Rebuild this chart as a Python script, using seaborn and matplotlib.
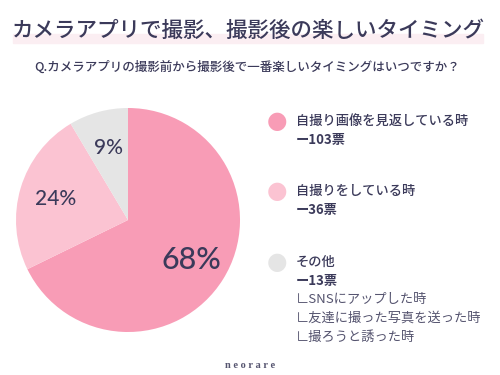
import numpy as np
import matplotlib.pyplot as plt
from matplotlib.patches import Rectangle
import seaborn as sns

sns.set_theme(style="white")
plt.rcParams['font.family'] = ['Noto Sans CJK JP', 'DejaVu Sans']

title = "カメラアプリで撮影、撮影後の楽しいタイミング"
question = "Q.カメラアプリの撮影前から撮影後で一番楽しいタイミングはいつですか？"
labels = ["自撮り画像を見返している時", "自撮りをしている時", "その他"]
votes = [103, 36, 13]
colors = ["#F89CB6", "#FBC3D2", "#E5E5E5"]
other_notes = ["∟SNSにアップした時", "∟友達に撮った写真を送った時", "∟撮ろうと誘った時"]
pct_sizes = [22, 15, 15]
ink = "#3B3A5A"

fig = plt.figure(figsize=(5, 3.75), dpi=100)
fig.patch.set_facecolor("white")

# title with soft underline band
fig.patches.append(Rectangle((13 / 500, 1 - 43 / 375), 470 / 500, 9 / 375,
                             transform=fig.transFigure, color="#FBEEF2", zorder=0))
fig.text(0.497, 1 - 31 / 375, title, ha="center", va="center", fontsize=15.5,
         color=ink, fontweight="medium")
fig.text(0.494, 1 - 67 / 375, question, ha="center", va="center", fontsize=9,
         color=ink, fontweight="medium")

# pie
ax = fig.add_axes([16 / 500, 43 / 375, 224 / 500, 224 / 375])
wedges, texts, autotexts = ax.pie(votes, colors=colors, startangle=90, counterclock=False,
                                  autopct=lambda p: f"{p:.0f}%", pctdistance=0.67,
                                  wedgeprops=dict(linewidth=0))
for t, s in zip(autotexts, pct_sizes):
    t.set_fontsize(s)
    t.set_color(ink)
    t.set_family("Lato")
    t.set_fontweight("medium")
ax.set_xlim(-1, 1)
ax.set_ylim(-1, 1)
ax.set_aspect("equal")
ax.axis("off")

# legend
ys = [121, 191, 262]
for lab, v, c, y in zip(labels, votes, colors, ys):
    fig.text(277 / 500, 1 - y / 375, "●", ha="center", va="center", fontsize=17,
             color=c, family="DejaVu Sans")
    fig.text(296 / 500, 1 - y / 375, lab, ha="left", va="center", fontsize=9.5,
             color=ink, fontweight="medium")
    fig.text(296 / 500, 1 - (y + 19) / 375, f"ー{v}票", ha="left", va="center",
             fontsize=9.5, color=ink, fontweight="bold")
for i, note in enumerate(other_notes):
    fig.text(296 / 500, 1 - (300 + 18.5 * i) / 375, note, ha="left", va="center",
             fontsize=9.5, color="#55546F")

fig.text(0.5, 1 - 365 / 375, "n e o r a r e", ha="center", va="center", fontsize=7.5,
         color="#55546F", family="Liberation Serif", fontweight="bold")

fig.savefig("out.png", dpi=100)
